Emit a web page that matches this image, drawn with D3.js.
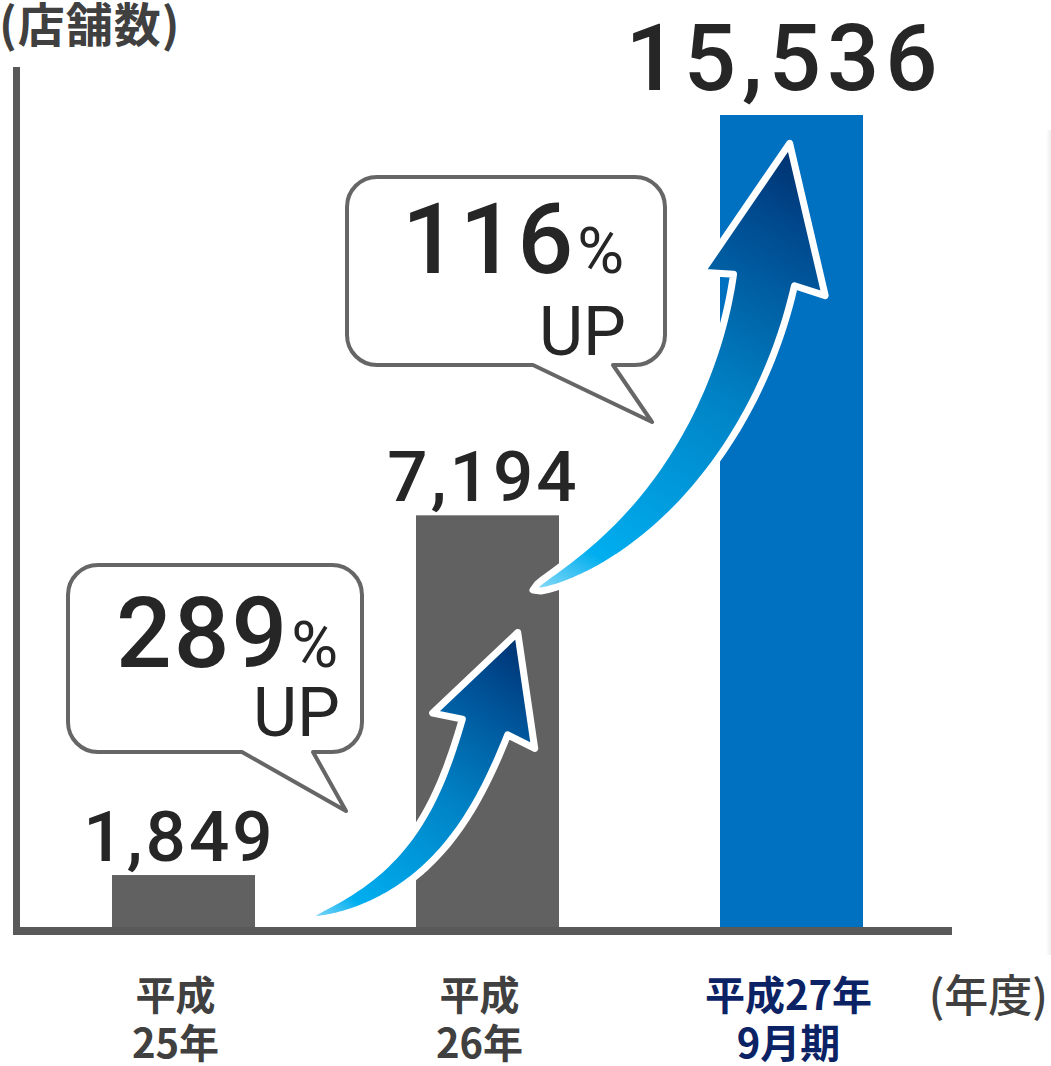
<!DOCTYPE html>
<html lang="ja">
<head>
<meta charset="utf-8">
<script src="https://cdn.jsdelivr.net/npm/d3@7/dist/d3.min.js"></script>
<style>
  html, body { margin: 0; padding: 0; background: #fff; }
  svg { display: block; }
</style>
</head>
<body>
<div id="chart"></div>
<script>
// ---------- data ----------
const categories = ["平成25年", "平成26年", "平成27年9月期"];
const categoryLines = [["平成", "25年"], ["平成", "26年"], ["平成27年", "9月期"]];
const storeCounts = [1849, 7194, 15536];
const highlighted = [false, false, true];
const yAxisTitle = "(店舗数)";
const xAxisTitle = "(年度)";
const upText = "UP";

// ---------- layout ----------
const W = 1051, H = 1066;
const plot = { left: 13, right: 952, top: 67, bottom: 927 };
const barWidth = 143;
const colors = {
  axis: "#595959", bar: "#616161", barHi: "#0070c0",
  text: "#404040", number: "#262626", hiText: "#0b2265", bubble: "#666666"
};
const numFont = "Roboto, 'Liberation Sans', Arial, sans-serif";
const jpFont = "'Noto Sans CJK JP', 'Noto Sans', sans-serif";

const svg = d3.select("#chart").append("svg")
  .attr("width", W).attr("height", H).attr("viewBox", `0 0 ${W} ${H}`);

const defs = svg.append("defs");

// scales
const x = d3.scalePoint().domain(categories).range([183.5, 791.5]);
// the original chart uses an exaggerated (non-linear, truncated) vertical scale
const y = d3.scalePow().exponent(0.655)
  .domain([1297, d3.max(storeCounts)])
  .range([plot.bottom, 115]).clamp(true);

const data = categories.map((c, i) => ({
  cat: c, lines: categoryLines[i], value: storeCounts[i], hi: highlighted[i]
}));

// faint shadow on right edge
const sg = defs.append("linearGradient").attr("id", "edgeShadow")
  .attr("x1", 0).attr("x2", 1).attr("y1", 0).attr("y2", 0);
sg.append("stop").attr("offset", 0).attr("stop-color", "#000").attr("stop-opacity", 0);
sg.append("stop").attr("offset", 1).attr("stop-color", "#000").attr("stop-opacity", 0.07);
svg.append("rect").attr("x", W - 5).attr("y", 130).attr("width", 5).attr("height", 825)
  .attr("fill", "url(#edgeShadow)");

// bars
svg.append("g").selectAll("rect").data(data).join("rect")
  .attr("x", d => x(d.cat) - barWidth / 2)
  .attr("y", d => y(d.value))
  .attr("width", barWidth)
  .attr("height", d => plot.bottom - y(d.value))
  .attr("fill", d => d.hi ? colors.barHi : colors.bar);

// axes lines
svg.append("line")
  .attr("x1", plot.left + 3.5).attr("x2", plot.left + 3.5)
  .attr("y1", plot.top).attr("y2", plot.bottom + 8)
  .attr("stroke", colors.axis).attr("stroke-width", 7);
svg.append("line")
  .attr("x1", plot.left).attr("x2", plot.right)
  .attr("y1", plot.bottom + 4).attr("y2", plot.bottom + 4)
  .attr("stroke", colors.axis).attr("stroke-width", 8);

// value labels
const fmt = d3.format(",");
svg.append("g").selectAll("text").data(data).join("text")
  .attr("x", d => x(d.cat) - (d.hi ? 7 : 4))
  .attr("y", d => y(d.value) - (d.hi ? 25 : 14))
  .attr("text-anchor", "middle")
  .attr("font-family", numFont)
  .attr("font-weight", 500)
  .attr("font-size", d => d.hi ? 92 : 71)
  .attr("letter-spacing", d => d.hi ? 6 : 3)
  .attr("fill", colors.number)
  .text(d => fmt(d.value));

// x category labels
const xl = svg.append("g").selectAll("text").data(data).join("text")
  .attr("text-anchor", "middle")
  .attr("font-family", jpFont)
  .attr("font-weight", 700)
  .attr("font-size", 40)
  .attr("fill", d => d.hi ? colors.hiText : colors.text);
xl.each(function(d) {
  const t = d3.select(this);
  d.lines.forEach((ln, j) => {
    t.append("tspan").attr("x", x(d.cat) - (d.hi ? 3 : 8)).attr("y", 1010 + j * 48).text(ln);
  });
});

// axis titles
svg.append("text").attr("x", -1).attr("y", 42)
  .attr("font-family", jpFont).attr("font-weight", 700).attr("font-size", 47)
  .attr("letter-spacing", 1)
  .attr("fill", colors.text).text(yAxisTitle);
svg.append("text").attr("x", 1048).attr("y", 1012).attr("text-anchor", "end")
  .attr("font-family", jpFont).attr("font-weight", 500).attr("font-size", 44)
  .attr("fill", colors.text).text(xAxisTitle);

// ---------- growth arrows ----------
function addGrad(id, p0, p1) {
  const g = defs.append("linearGradient").attr("id", id)
    .attr("gradientUnits", "userSpaceOnUse")
    .attr("x1", p0[0]).attr("y1", p0[1]).attr("x2", p1[0]).attr("y2", p1[1]);
  [[0, "#8fdcf8"], [0.12, "#00aeef"], [0.5, "#0083c6"], [0.85, "#004a8f"], [1, "#00306e"]]
    .forEach(([o, c]) => g.append("stop").attr("offset", o).attr("stop-color", c));
}

function cubic(P, t) {
  const u = 1 - t;
  return [
    u*u*u*P[0][0] + 3*u*u*t*P[1][0] + 3*u*t*t*P[2][0] + t*t*t*P[3][0],
    u*u*u*P[0][1] + 3*u*u*t*P[1][1] + 3*u*t*t*P[2][1] + t*t*t*P[3][1]
  ];
}
function cubicD(P, t) {
  const u = 1 - t;
  return [
    3*u*u*(P[1][0]-P[0][0]) + 6*u*t*(P[2][0]-P[1][0]) + 3*t*t*(P[3][0]-P[2][0]),
    3*u*u*(P[1][1]-P[0][1]) + 6*u*t*(P[2][1]-P[1][1]) + 3*t*t*(P[3][1]-P[2][1])
  ];
}
function arrowPath(a) {
  const P = [a.p0, a.p1, a.p2, a.p3];
  const N = 60, L = [], R = [];
  for (let i = 0; i <= N; i++) {
    const t = i / N, p = cubic(P, t), d = cubicD(P, t);
    const len = Math.hypot(d[0], d[1]) || 1;
    const n = [-d[1] / len, d[0] / len];
    const w = a.shaftW * Math.pow(t, 0.5) / 2;
    L.push([p[0] + n[0] * w, p[1] + n[1] * w]);
    R.push([p[0] - n[0] * w, p[1] - n[1] * w]);
  }
  const d = cubicD(P, 1), len = Math.hypot(d[0], d[1]);
  const u = [d[0] / len, d[1] / len], n = [-u[1], u[0]];
  const b = a.p3;
  const tip = [b[0] + u[0] * a.headLen, b[1] + u[1] * a.headLen];
  const bl = [b[0] + n[0] * a.headW / 2 - u[0] * a.back, b[1] + n[1] * a.headW / 2 - u[1] * a.back];
  const br = [b[0] - n[0] * a.headW / 2 - u[0] * a.back, b[1] - n[1] * a.headW / 2 - u[1] * a.back];
  const pts = L.concat([bl, tip, br]).concat(R.reverse());
  return d3.line()(pts) + "Z";
}

const arrows = [
  { p0: [308, 918], p1: [420, 888], p2: [458, 805], p3: [485, 727],
    shaftW: 48, headW: 108, headLen: 100, back: 4 },
  { p0: [533, 590], p1: [660, 537], p2: [740, 408], p3: [764, 280],
    shaftW: 62, headW: 126, headLen: 139, back: 4 }
];
arrows.forEach((a, i) => {
  const d = cubicD([a.p0, a.p1, a.p2, a.p3], 1), len = Math.hypot(d[0], d[1]);
  const tip = [a.p3[0] + d[0] / len * a.headLen, a.p3[1] + d[1] / len * a.headLen];
  addGrad("arrowGrad" + (i + 1), a.p0, tip);
  svg.append("path").attr("d", arrowPath(a))
    .attr("fill", `url(#arrowGrad${i + 1})`)
    .attr("stroke", "#fff").attr("stroke-width", 7)
    .attr("stroke-linejoin", "round");
});

// ---------- speech bubbles with growth rate ----------
const growth = d3.pairs(storeCounts).map(([a, b]) => Math.round((b / a - 1) * 100));
const bubbles = [
  { x: 68, y: 565, w: 294, h: 187, r: 30, tailL: 242, tailR: 313, tip: [346, 811],
    textX: 338, numY: 667, upY: 736 },
  { x: 347, y: 177, w: 318, h: 188, r: 30, tailL: 533, tailR: 613, tip: [652, 422],
    textX: 624, numY: 273, upY: 355 }
];
function bubblePath(b) {
  const p = d3.path();
  p.moveTo(b.x + b.r, b.y);
  p.lineTo(b.x + b.w - b.r, b.y);
  p.arcTo(b.x + b.w, b.y, b.x + b.w, b.y + b.r, b.r);
  p.lineTo(b.x + b.w, b.y + b.h - b.r);
  p.arcTo(b.x + b.w, b.y + b.h, b.x + b.w - b.r, b.y + b.h, b.r);
  p.lineTo(b.tailR, b.y + b.h);
  p.lineTo(b.tip[0], b.tip[1]);
  p.lineTo(b.tailL, b.y + b.h);
  p.lineTo(b.x + b.r, b.y + b.h);
  p.arcTo(b.x, b.y + b.h, b.x, b.y + b.h - b.r, b.r);
  p.lineTo(b.x, b.y + b.r);
  p.arcTo(b.x, b.y, b.x + b.r, b.y, b.r);
  p.closePath();
  return p.toString();
}
bubbles.forEach((b, i) => {
  const g = svg.append("g");
  g.append("path").attr("d", bubblePath(b))
    .attr("fill", "#fff").attr("stroke", colors.bubble).attr("stroke-width", 4)
    .attr("stroke-linejoin", "round");
  const t = g.append("text").attr("x", b.textX).attr("y", b.numY)
    .attr("text-anchor", "end").attr("font-family", numFont).attr("fill", colors.number);
  t.append("tspan").attr("font-size", 98).attr("font-weight", 500)
    .attr("letter-spacing", 2).text(growth[i]);
  t.append("tspan").attr("font-size", 64).attr("font-weight", 400).attr("dx", 2).text("%");
  g.append("text").attr("x", b.textX + 2).attr("y", b.upY)
    .attr("text-anchor", "end").attr("font-family", numFont).attr("font-weight", 400)
    .attr("font-size", 68).attr("fill", colors.number).text(upText);
});
</script>
</body>
</html>
